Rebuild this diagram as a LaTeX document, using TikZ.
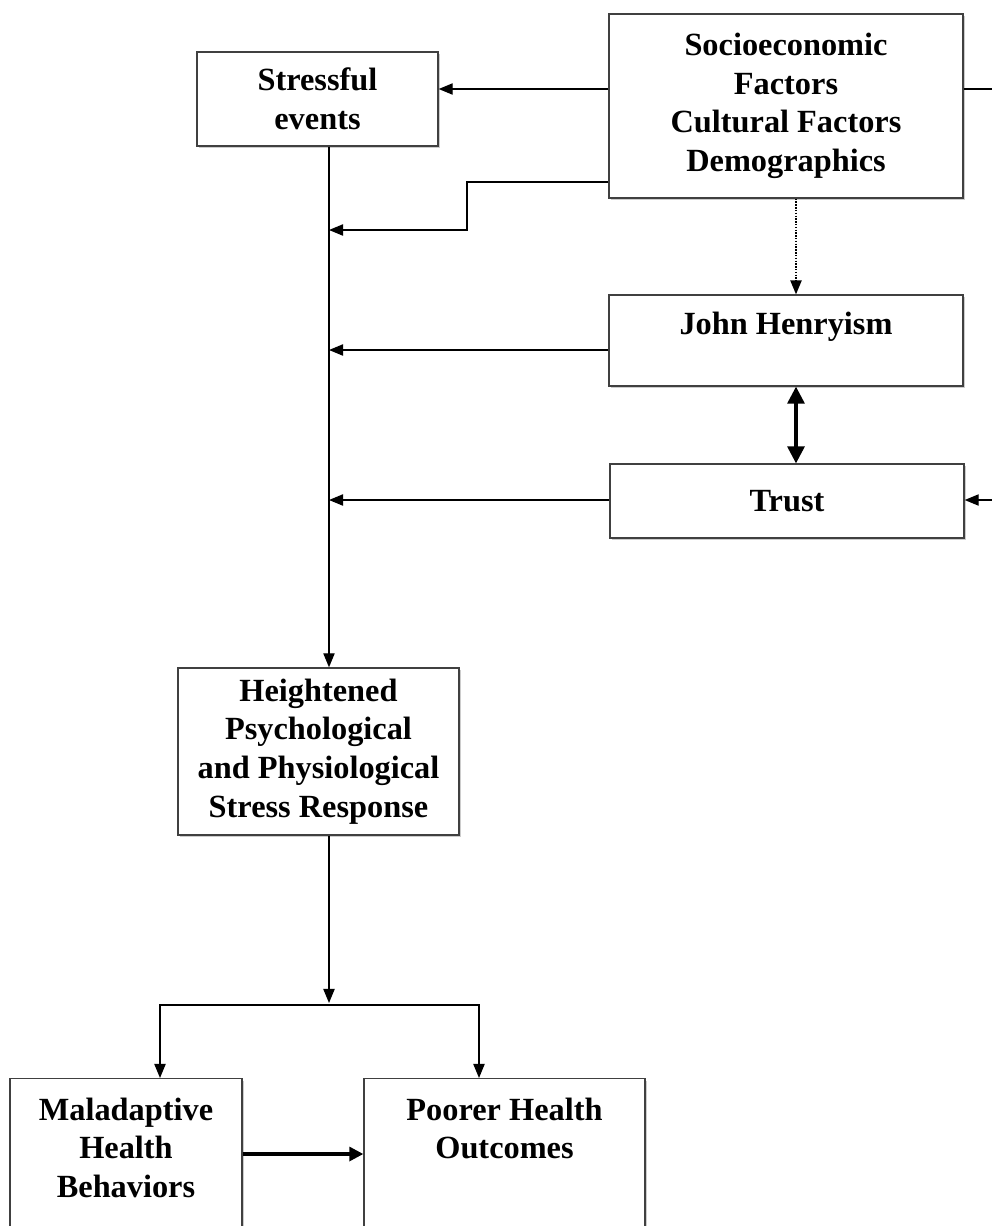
\documentclass[tikz,border=0pt]{standalone}
\usepackage{fontspec}
\setmainfont{Liberation Serif}
\usetikzlibrary{shadows,arrows.meta}
\tikzset{%
  factor/.style={draw=black!75, line width=0.9pt, fill=white, align=center, inner sep=2pt,
    font=\bfseries\fontsize{23}{27.5}\selectfont,
    drop shadow={shadow xshift=1.6pt, shadow yshift=-1.6pt, fill=black!40, opacity=0.5}},
  outcome/.style={factor, anchor=north, inner ysep=13.5pt},
  line/.style={draw, line width=1pt, -{Triangle[length=10pt,width=8pt]}},
  linepart/.style={line, densely dotted, line width=1.2pt},
  linebold/.style={draw, line width=2.2pt, -{Triangle[length=10pt,width=10pt]}},
  linedouble/.style={draw, line width=2.2pt, {Triangle[length=12pt,width=12pt]}-{Triangle[length=12pt,width=12pt]}},
}

\begin{document}
\begin{tikzpicture}[x=0.025cm, y=-0.025cm]
  \useasboundingbox (0,0) rectangle (992,1226);
  \clip (0,0) rectangle (992,1226);

  \node (stress) [factor, minimum width=6.025cm, minimum height=2.35cm] at (317.5,99) {Stressful\\events};
  \node (socio) [factor, minimum width=8.85cm, minimum height=4.6cm] at (786,106)
    {Socioeconomic\\Factors\\Cultural Factors\\Demographics};
  \node (jh) [factor, minimum width=8.85cm, minimum height=2.275cm, text depth=24pt] at (786,340.5) {John Henryism};
  \node (trust) [factor, minimum width=8.85cm, minimum height=1.85cm] at (787,501) {Trust};
  \node (heighten) [factor, minimum width=7.025cm, minimum height=4.175cm] at (318.5,751.5)
    {Heightened\\Psychological\\and Physiological\\Stress Response};
  \node (mal) [outcome, minimum width=5.8cm] at (126,1078)
    {Maladaptive\\Health\\Behaviors\\\strut\\\strut};
  \node (poor) [outcome, minimum width=7.025cm] at (504.5,1078)
    {Poorer Health\\Outcomes\\\strut\\\strut\\\strut};

  % rows and columns of the connectors
  \coordinate (r1) at (0,89);
  \coordinate (r2) at (0,182);
  \coordinate (r3) at (0,350);
  \coordinate (r4) at (0,500);
  \coordinate (r5) at (0,1154);
  \coordinate (trunk) at (329,0);
  \coordinate (kink) at (467,230);
  \coordinate (mid) at (796,0);
  \coordinate (edge) at (1010,500);
  \coordinate (split) at (329,1003);
  \coordinate (fork) at (329,1005);
  \coordinate (b1) at (160,0);
  \coordinate (b2) at (479,0);

  \path [line] (stress.south -| trunk) -- (heighten.north -| trunk);
  \path [line] (socio.west |- r1) -- (stress.east |- r1);
  \path [line] (socio.west |- r2) -| (kink) -- (kink -| trunk);
  \path [line] (jh.west |- r3) -- (r3 -| trunk);
  \path [line] (trust.west |- r4) -- (r4 -| trunk);
  \path [line] (socio.east |- r1) -| (edge) -- (trust.east |- r4);
  \path [linepart] (socio.south -| mid) -- (jh.north -| mid);
  \path [linedouble] (jh.south -| mid) -- (trust.north -| mid);

  \path [line] (heighten.south -| trunk) -- (split);
  \path [line] (fork) -| (mal.north -| b1);
  \path [line] (fork) -| (poor.north -| b2);
  \path [linebold] (mal.east |- r5) -- (poor.west |- r5);
\end{tikzpicture}
\end{document}
